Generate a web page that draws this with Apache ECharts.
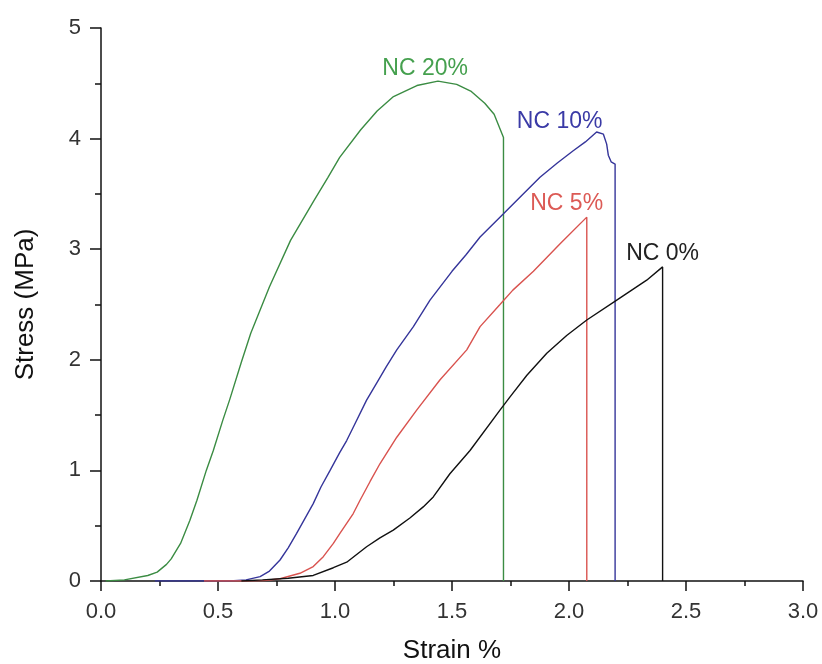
<!DOCTYPE html>
<html>
<head>
<meta charset="utf-8">
<script src="https://cdn.jsdelivr.net/npm/echarts@6/dist/echarts.min.js"></script>
<style>html,body{margin:0;padding:0;background:#fff}#c{width:822px;height:664px}</style>
</head>
<body>
<div id="c"></div>
<script>
// Data: [strain %, stress MPa]
const nc20 = [[0.02,0],[0.1,0.01],[0.2,0.05],[0.24,0.08],[0.28,0.15],[0.3,0.2],[0.34,0.34],[0.38,0.55],[0.41,0.73],[0.45,1.0],[0.48,1.18],[0.52,1.45],[0.55,1.64],[0.6,1.98],[0.64,2.24],[0.72,2.66],[0.81,3.08],[0.91,3.44],[0.97,3.65],[1.02,3.83],[1.11,4.08],[1.18,4.25],[1.25,4.38],[1.35,4.48],[1.44,4.52],[1.52,4.49],[1.58,4.43],[1.64,4.32],[1.68,4.22],[1.72,4.01],[1.72,0]];
const nc10 = [[0.23,0],[0.4,0],[0.55,0],[0.62,0.01],[0.68,0.04],[0.72,0.09],[0.765,0.19],[0.8,0.3],[0.836,0.43],[0.87,0.56],[0.907,0.70],[0.94,0.85],[0.979,1.0],[1.02,1.16],[1.05,1.27],[1.078,1.39],[1.135,1.635],[1.178,1.79],[1.22,1.94],[1.264,2.09],[1.335,2.30],[1.406,2.54],[1.5,2.80],[1.56,2.95],[1.62,3.11],[1.72,3.32],[1.8,3.49],[1.876,3.65],[1.95,3.78],[2.018,3.89],[2.07,3.97],[2.118,4.06],[2.147,4.04],[2.161,3.95],[2.168,3.85],[2.18,3.79],[2.197,3.77],[2.197,0]];
const nc5 = [[0.44,0],[0.6,0],[0.7,0.005],[0.765,0.02],[0.85,0.07],[0.907,0.13],[0.95,0.22],[0.993,0.34],[1.021,0.43],[1.078,0.61],[1.107,0.73],[1.15,0.9],[1.192,1.06],[1.264,1.30],[1.349,1.545],[1.449,1.82],[1.563,2.09],[1.62,2.30],[1.705,2.50],[1.76,2.63],[1.848,2.80],[1.962,3.05],[2.076,3.29],[2.076,0]];
const nc0 = [[0.6,0],[0.69,0.01],[0.8,0.025],[0.907,0.05],[0.993,0.12],[1.05,0.17],[1.135,0.31],[1.192,0.39],[1.249,0.46],[1.32,0.57],[1.377,0.67],[1.42,0.76],[1.491,0.97],[1.577,1.18],[1.705,1.545],[1.748,1.665],[1.82,1.86],[1.905,2.06],[1.99,2.22],[2.076,2.36],[2.204,2.54],[2.332,2.72],[2.40,2.84],[2.40,0]];
const seriesNames = ['NC 20%','NC 10%','NC 5%','NC 0%'];
const xTicks = [0,0.5,1.0,1.5,2.0,2.5,3.0];
const yTicks = [0,1,2,3,4,5];

const colors = ['#3b8c43','#35359a','#d9534f','#111111'];
const labelColors = ['#45a04e','#3a3aa6','#dc5a55','#222222'];
const labelAt = [[1.385,4.63],[1.96,4.15],[1.99,3.41],[2.40,2.96]];
const datasets = [nc20, nc10, nc5, nc0];

const chart = echarts.init(document.getElementById('c'));
const font = 'Liberation Sans, Arial, sans-serif';
chart.setOption({
  animation: false,
  backgroundColor: '#fff',
  grid: {left: 101, right: 19, top: 28, bottom: 83, containLabel: false, outerBoundsMode: 'none'},
  xAxis: {
    type: 'value', min: xTicks[0], max: xTicks[xTicks.length-1], interval: 0.5,
    name: 'Strain %', nameLocation: 'middle', nameGap: 57,
    nameTextStyle: {fontFamily: font, fontSize: 26, color: '#111'},
    axisLine: {show: true, onZero: false, lineStyle: {color: '#111', width: 1.5}},
    axisTick: {show: true, inside: false, length: 10, lineStyle: {color: '#111', width: 1.5}},
    minorTick: {show: true, splitNumber: 2, length: 5, lineStyle: {color: '#111', width: 1.5}},
    splitLine: {show: false},
    axisLabel: {fontFamily: font, fontSize: 22, color: '#333', margin: 20, formatter: v => v.toFixed(1)}
  },
  yAxis: {
    type: 'value', min: yTicks[0], max: yTicks[yTicks.length-1], interval: 1,
    name: 'Stress (MPa)', nameLocation: 'middle', nameGap: 62, nameRotate: 90,
    nameTextStyle: {fontFamily: font, fontSize: 26, color: '#111'},
    axisLine: {show: true, onZero: false, lineStyle: {color: '#111', width: 1.5}},
    axisTick: {show: true, inside: false, length: 11, lineStyle: {color: '#111', width: 1.5}},
    minorTick: {show: true, splitNumber: 2, length: 6, lineStyle: {color: '#111', width: 1.5}},
    splitLine: {show: false},
    axisLabel: {fontFamily: font, fontSize: 22, color: '#333', margin: 20}
  },
  series: datasets.map((d, i) => ({
    name: seriesNames[i], type: 'line', data: d, symbol: 'none', smooth: false,
    lineStyle: {color: colors[i], width: 1.4}, z: 2 + i,
    markPoint: {
      symbol: 'circle', symbolSize: 0, silent: true,
      data: [{coord: labelAt[i], name: seriesNames[i]}],
      label: {show: true, position: 'inside', formatter: seriesNames[i], color: labelColors[i], fontFamily: font, fontSize: 23}
    }
  }))
});
</script>
</body>
</html>
